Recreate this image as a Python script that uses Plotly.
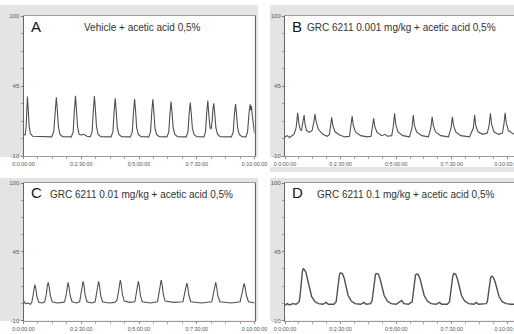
import plotly.graph_objects as go

# ---------------- data ----------------
x_tick_vals = [0, 2.5, 5, 7.5, 10]
x_tick_text = ["0:0:00:00", "0:2:30:00", "0:5:00:00", "0:7:30:00", "0:10:00:00"]
y_tick_vals = [-10, 45, 100]
y_tick_text = ["-10", "45", "100"]

panel_letters = ["A", "B", "C", "D"]
panel_titles = [
    "Vehicle + acetic acid 0,5%",
    "GRC 6211 0.001 mg/kg + acetic acid 0,5%",
    "GRC 6211 0.01 mg/kg + acetic acid 0,5%",
    "GRC 6211 0.1 mg/kg + acetic acid 0,5%",
]

a_t = [0, 0.07, 0.11, 0.15, 0.17, 0.2, 0.24, 0.3, 0.4,
       1.22, 1.31, 1.37, 1.42, 1.46, 1.51, 1.58, 1.7,
       2.07, 2.15, 2.2, 2.25, 2.29, 2.34, 2.41, 2.5, 2.6, 2.75,
       2.89, 2.97, 3.02, 3.07, 3.11, 3.16, 3.23, 3.35,
       3.79, 3.87, 3.92, 3.97, 4.01, 4.06, 4.13, 4.25,
       4.63, 4.71, 4.76, 4.81, 4.85, 4.9, 4.97, 5.09,
       5.42, 5.5, 5.55, 5.6, 5.64, 5.69, 5.76, 5.88,
       6.21, 6.29, 6.34, 6.39, 6.43, 6.48, 6.55, 6.67,
       7.04, 7.12, 7.17, 7.22, 7.26, 7.31, 7.38, 7.5,
       7.81, 7.88, 7.93, 7.98, 8.02, 8.07, 8.12, 8.17, 8.2, 8.24, 8.28, 8.33, 8.4, 8.52,
       9.0, 9.08, 9.13, 9.18, 9.22, 9.27, 9.34, 9.46,
       9.63, 9.7, 9.76, 9.81, 9.84, 9.87, 9.91, 9.96, 10]
a_v = [7, 6.5, 12, 30, 36.7, 28, 14, 7.5, 5.5,
       5, 9, 24, 36.1, 27, 13, 7, 5.2,
       5, 9, 25, 37.4, 27, 13, 7, 6.5, 7, 5.5,
       5, 9, 25, 37.2, 27, 13, 7, 5.2,
       5, 9, 24, 35.3, 26, 12, 7, 5.2,
       5, 9, 24, 34.8, 26, 12, 7, 5.2,
       5, 9, 24, 34.6, 26, 12, 7, 5.2,
       5, 9, 23, 32.7, 24, 12, 7, 5.2,
       5, 9, 23, 31.9, 24, 12, 7, 5.2,
       5, 9, 24, 33.5, 23, 13, 11, 18, 27, 31.4, 23, 12, 7, 5.2,
       5, 9, 23, 30.9, 23, 12, 7, 5.2,
       5, 9, 23, 30.6, 26, 29.5, 21, 12, 8]

b_t = [0, 0.1, 0.2, 0.3, 0.4, 0.5, 0.57, 0.62, 0.68, 0.74, 0.8, 0.86, 0.9, 0.97,
       1.1, 1.22, 1.3, 1.35, 1.4, 1.5, 1.7, 1.9, 2.0, 2.05, 2.1, 2.15, 2.25, 2.45,
       2.7, 2.9, 2.96, 3.02, 3.07, 3.17, 3.4, 3.7, 3.87, 3.93, 3.99, 4.04, 4.14, 4.35,
       4.5, 4.6, 4.8, 4.87, 4.93, 4.98, 5.08, 5.3, 5.6, 5.71, 5.77, 5.82, 5.92, 6.15,
       6.45, 6.56, 6.62, 6.67, 6.77, 7.0, 7.35, 7.47, 7.53, 7.58, 7.68, 7.9,
       8.3, 8.47, 8.53, 8.58, 8.68, 8.9, 9.1, 9.18, 9.24, 9.29, 9.4, 9.6,
       9.78, 9.84, 9.9, 9.95, 10.05, 10.3]
b_v = [5, 6, 4.5, 6, 7, 12, 24.0, 16, 11, 10, 15, 22.2, 15, 10,
       8.5, 10, 17, 23.0, 17, 11, 7, 5.5, 7, 13, 20.4, 14, 9, 6.5,
       5, 5.5, 12, 21.4, 14, 9, 6, 5, 5.5, 12, 19.6, 13, 8.5, 6,
       7, 5.5, 6, 13, 23.6, 15, 9, 6, 5, 12, 22.2, 14, 9, 6,
       5, 12, 20.8, 14, 9, 6, 5, 12, 20.8, 14, 9, 6,
       5, 12, 22.2, 14, 9, 7, 8, 14, 23.6, 15, 9, 7,
       8, 14, 24.0, 16, 10, 7]

c_t = [0, 0.08, 0.2, 0.3, 0.36, 0.42, 0.46, 0.49, 0.53, 0.58, 0.66, 0.8,
       0.92, 0.99, 1.03, 1.07, 1.11, 1.16, 1.24, 1.45, 1.7,
       1.78, 1.85, 1.89, 1.93, 1.97, 2.02, 2.1, 2.3,
       2.43, 2.5, 2.54, 2.58, 2.62, 2.67, 2.75, 2.95,
       3.1, 3.17, 3.21, 3.25, 3.29, 3.34, 3.42, 3.7, 3.95,
       4.04, 4.11, 4.15, 4.19, 4.23, 4.28, 4.36, 4.6,
       4.82, 4.89, 4.93, 4.97, 5.01, 5.06, 5.14, 5.5,
       5.8, 5.88, 5.92, 5.96, 6.0, 6.05, 6.13, 6.5,
       6.9, 6.98, 7.03, 7.07, 7.11, 7.16, 7.24, 7.7,
       8.15, 8.23, 8.28, 8.32, 8.36, 8.41, 8.5, 9.0,
       9.38, 9.46, 9.51, 9.55, 9.59, 9.65, 9.74, 10]
c_v = [6, 3.5, 4, 3, 4.5, 10, 16, 18.6, 16, 9, 4.5, 4,
       5, 11, 18, 20.5, 17, 10, 5, 4, 4.5,
       5, 11, 18, 20.5, 17, 10, 5, 4,
       5, 12, 19, 21.3, 18, 10, 5, 4,
       5, 12, 19, 21.3, 18, 10, 5, 4, 4.5,
       6, 13, 20, 22.3, 19, 11, 5.5, 4.5,
       5, 12, 19, 21.3, 18, 10, 5, 4,
       5, 13, 20, 22.3, 19, 11, 5.5, 4.5,
       5, 12, 18, 19.9, 17, 10, 5, 4,
       5, 12, 18, 20.5, 17, 10, 5, 4,
       5, 12, 18, 19.7, 17, 10, 5, 4]

d_t = [0, 0.1, 0.2, 0.35, 0.5, 0.6, 0.64, 0.69, 0.74, 0.78, 0.82, 0.88, 0.94,
       1.02, 1.1, 1.2, 1.35, 1.5, 1.7, 1.85, 1.95,
       2.2, 2.3, 2.35, 2.4, 2.45, 2.5, 2.58, 2.66, 2.74, 2.84, 2.98, 3.15, 3.4, 3.55, 3.65,
       3.85, 3.92, 3.97, 4.02, 4.07, 4.12, 4.2, 4.28, 4.36, 4.46, 4.6, 4.78, 5.0, 5.15,
       5.25, 5.35, 5.55,
       5.72, 5.77, 5.82, 5.87, 5.93, 6.0, 6.08, 6.16, 6.26, 6.4, 6.58, 6.8, 6.95, 7.05,
       7.3,
       7.4, 7.45, 7.5, 7.55, 7.6, 7.68, 7.76, 7.84, 7.94, 8.08, 8.26, 8.5, 8.6, 8.7,
       9.05, 9.1, 9.15, 9.2, 9.25, 9.3, 9.37, 9.45, 9.53, 9.63, 9.77, 9.95, 10.15, 10.3]
d_v = [2, 3.5, 2.5, 3.5, 3, 4, 5, 12, 24, 29, 31.6, 30.5, 28.5,
       22, 15, 9, 5, 3.5, 3, 4.5, 3,
       3, 5, 12, 22, 27, 28.1, 27.5, 24, 17, 10, 5.5, 3.5, 3, 4.5, 3,
       3.5, 6, 14, 23, 27, 27.6, 27, 23, 16, 10, 5.5, 3.5, 3, 5,
       6, 3.5, 3,
       5, 13, 22, 26.5, 27.1, 26.5, 23, 16, 10, 5.5, 3.5, 3, 4.5, 3,
       3,
       5, 13, 21, 26, 27.6, 27, 23, 16, 10, 5.5, 3.5, 3, 4.5, 3,
       3.5, 5, 12, 20, 24.5, 25.5, 24.5, 21, 15, 9, 5, 3.5, 3, 3]

series_t = [a_t, b_t, c_t, d_t]
series_v = [a_v, b_v, c_v, d_v]

# ---------------- layout geometry (pixels) ----------------
W, H = 514, 334


def px(x):
    return x / W


def py(y):
    return 1 - y / H


# plot areas: (x0, x1, y_top, y_bottom, x-range end, right border)
areas = [
    (23.5, 254.5, 16, 156, 10.0, True),
    (285, 514, 16, 156, 10.3, False),
    (23.5, 254.5, 183, 320.5, 10.0, True),
    (285, 514, 183, 320.5, 10.3, False),
]
frames = [
    (0, 5, 258, 157),
    (270, 5, 514, 157),
    (0, 178, 258, 321),
    (270, 178, 514, 321),
    (270, 167, 514, 172),
]
FRAME = "#e4e4e4"
TXT = "#555555"
FONT = "Liberation Sans, Arial, sans-serif"

fig = go.Figure()
shapes = []
for (x0, y0, x1, y1) in frames:
    shapes.append(dict(type="rect", xref="paper", yref="paper", layer="below",
                       x0=px(x0), x1=px(x1), y0=py(y1), y1=py(y0),
                       fillcolor=FRAME, line=dict(width=0)))
for (x0, x1, yt, yb, xr, rb) in areas:
    shapes.append(dict(type="rect", xref="paper", yref="paper", layer="below",
                       x0=px(x0), x1=px(x1), y0=py(yb), y1=py(yt),
                       fillcolor="white", line=dict(width=0)))

annotations = []
layout_axes = {}
for i in range(4):
    n = i + 1
    sfx = "" if n == 1 else str(n)
    x0, x1, yt, yb, xr, rb = areas[i]
    fig.add_trace(go.Scatter(
        x=series_t[i], y=series_v[i], mode="lines",
        line=dict(color="#505050", width=1.1 if i < 3 else 1.4),
        xaxis="x" + sfx, yaxis="y" + sfx, showlegend=False,
        hoverinfo="skip"))
    layout_axes["xaxis" + sfx] = dict(
        domain=[px(x0), px(x1)], range=[0, xr], anchor="y" + sfx,
        automargin=False, ticklabeloverflow="allow",
        tickmode="array", tickvals=x_tick_vals, ticktext=x_tick_text,
        ticks="outside", ticklen=2, tickcolor="#888", tickwidth=1,
        minor=dict(dtick=0.625, tick0=0, ticks="outside", ticklen=2,
                   tickcolor="#aaa"),
        showline=True, linecolor="#9a9a9a", linewidth=1, mirror=True,
        showgrid=False, zeroline=False, ticklabelstandoff=1,
        tickfont=dict(family=FONT, size=5.4, color=TXT))
    layout_axes["yaxis" + sfx] = dict(
        domain=[py(yb), py(yt)], range=[-10, 100], anchor="x" + sfx,
        automargin=False,
        tickmode="array", tickvals=y_tick_vals, ticktext=y_tick_text,
        ticks="outside", ticklen=2, tickcolor="#777", tickwidth=1,
        minor=dict(dtick=13.75, tick0=-10, ticks="outside", ticklen=2,
                   tickcolor="#999"),
        showline=True, linecolor="#666", linewidth=1, mirror=rb,
        showgrid=False, zeroline=False, ticklabelstandoff=0,
        tickfont=dict(family=FONT, size=6, color=TXT))
    # panel letter + title
    lx = x0 + 5
    ly = yt + 10
    annotations.append(dict(xref="paper", yref="paper", x=px(lx), y=py(ly),
                            xanchor="left", yanchor="middle", showarrow=False,
                            text=panel_letters[i],
                            font=dict(family=FONT, size=15, color="#151515")))
    tx = [82, 305, 48, 315][i]
    annotations.append(dict(xref="paper", yref="paper", x=px(tx), y=py(ly + 1),
                            xanchor="left", yanchor="middle", showarrow=False,
                            text=panel_titles[i],
                            font=dict(family=FONT, size=10, color="#333")))

fig.update_layout(
    width=W, height=H, margin=dict(l=0, r=0, t=0, b=0, autoexpand=False),
    paper_bgcolor="white", plot_bgcolor="rgba(0,0,0,0)",
    shapes=shapes, annotations=annotations, showlegend=False,
    **layout_axes)

fig.write_html("out.html")
